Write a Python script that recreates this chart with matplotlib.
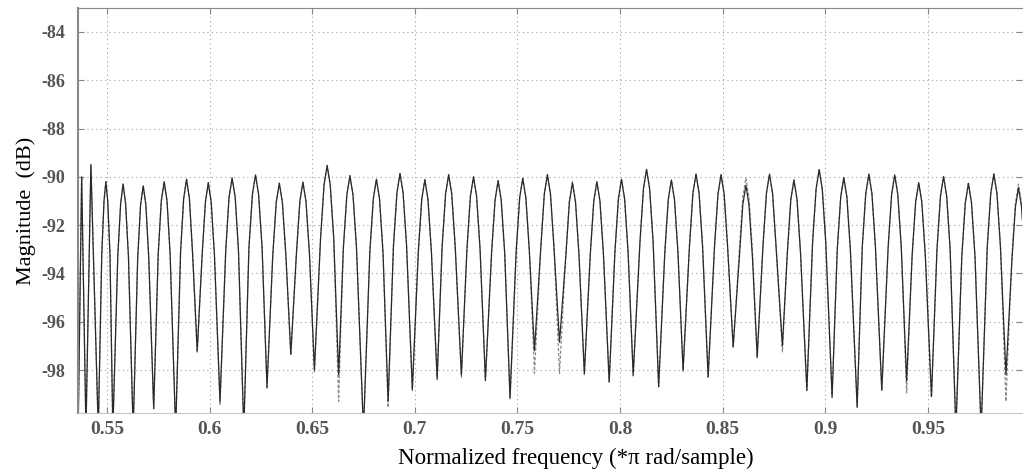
import matplotlib
matplotlib.use('Agg')
import matplotlib.pyplot as plt
from matplotlib.ticker import FormatStrFormatter

# points: trough, shoulders and top of every lobe
freq = [0.5360, 0.5377, 0.5398, 0.5422, 0.5458,
        0.5475, 0.5486, 0.5495, 0.5504, 0.5515, 0.5529,
        0.5553, 0.5567, 0.5579, 0.5591, 0.5605, 0.5628,
        0.5650, 0.5664, 0.5677, 0.5690, 0.5704, 0.5728,
        0.5750, 0.5765, 0.5779, 0.5793, 0.5808, 0.5835,
        0.5859, 0.5874, 0.5888, 0.5902, 0.5917, 0.5940,
        0.5964, 0.5980, 0.5994, 0.6008, 0.6024, 0.6051,
        0.6079, 0.6095, 0.6110, 0.6125, 0.6141, 0.6167,
        0.6192, 0.6209, 0.6224, 0.6239, 0.6256, 0.6280,
        0.6308, 0.6325, 0.6340, 0.6355, 0.6372, 0.6396,
        0.6423, 0.6440, 0.6455, 0.6470, 0.6487, 0.6511,
        0.6541, 0.6558, 0.6573, 0.6588, 0.6605, 0.6629,
        0.6652, 0.6669, 0.6684, 0.6699, 0.6716, 0.6750,
        0.6781, 0.6798, 0.6813, 0.6828, 0.6845, 0.6870,
        0.6896, 0.6913, 0.6928, 0.6943, 0.6960, 0.6988,
        0.7017, 0.7034, 0.7049, 0.7064, 0.7081, 0.7109,
        0.7133, 0.7150, 0.7165, 0.7180, 0.7197, 0.7227,
        0.7254, 0.7271, 0.7286, 0.7301, 0.7318, 0.7344,
        0.7374, 0.7391, 0.7406, 0.7421, 0.7438, 0.7464,
        0.7494, 0.7511, 0.7526, 0.7541, 0.7558, 0.7583,
        0.7614, 0.7631, 0.7646, 0.7661, 0.7678, 0.7705,
        0.7736, 0.7753, 0.7768, 0.7783, 0.7800, 0.7826,
        0.7855, 0.7872, 0.7887, 0.7902, 0.7919, 0.7947,
        0.7975, 0.7992, 0.8007, 0.8022, 0.8039, 0.8064,
        0.8097, 0.8114, 0.8129, 0.8144, 0.8161, 0.8188,
        0.8218, 0.8235, 0.8250, 0.8265, 0.8282, 0.8307,
        0.8338, 0.8355, 0.8370, 0.8385, 0.8402, 0.8429,
        0.8460, 0.8477, 0.8492, 0.8507, 0.8524, 0.8551,
        0.8581, 0.8598, 0.8613, 0.8628, 0.8645, 0.8668,
        0.8696, 0.8713, 0.8728, 0.8743, 0.8760, 0.8791,
        0.8815, 0.8832, 0.8847, 0.8862, 0.8879, 0.8910,
        0.8938, 0.8955, 0.8970, 0.8985, 0.9002, 0.9033,
        0.9058, 0.9075, 0.9090, 0.9105, 0.9122, 0.9155,
        0.9180, 0.9197, 0.9212, 0.9227, 0.9244, 0.9275,
        0.9306, 0.9323, 0.9338, 0.9353, 0.9370, 0.9396,
        0.9423, 0.9440, 0.9455, 0.9470, 0.9487, 0.9517,
        0.9544, 0.9561, 0.9576, 0.9591, 0.9608, 0.9636,
        0.9665, 0.9682, 0.9697, 0.9712, 0.9729, 0.9759,
        0.9789, 0.9806, 0.9821, 0.9836, 0.9853, 0.9880,
        0.9909, 0.9926, 0.9941, 0.9956, 0.9960]

# solid curve, dB
mag_solid = [-100.5, -90.0, -100.5, -89.5, -100.5,
             -93.2, -91.0, -90.2, -91.0, -93.2, -100.5,
             -93.3, -91.1, -90.3, -91.1, -93.3, -100.5,
             -93.37, -91.17, -90.37, -91.17, -93.37, -99.6,
             -93.2, -91.0, -90.2, -91.0, -93.2, -100.5,
             -93.1, -90.9, -90.1, -90.9, -93.1, -97.2,
             -93.24, -91.04, -90.24, -91.04, -93.24, -99.3,
             -93.05, -90.85, -90.05, -90.85, -93.05, -100.5,
             -92.92, -90.72, -89.92, -90.72, -92.92, -98.7,
             -93.26, -91.06, -90.26, -91.06, -93.26, -97.34,
             -93.22, -91.02, -90.22, -91.02, -93.22, -98.0,
             -92.53, -90.33, -89.53, -90.33, -92.53, -98.2,
             -92.95, -90.75, -89.95, -90.75, -92.95, -100.5,
             -93.1, -90.9, -90.1, -90.9, -93.1, -99.3,
             -92.86, -90.66, -89.86, -90.66, -92.86, -98.8,
             -93.12, -90.92, -90.12, -90.92, -93.12, -98.35,
             -92.91, -90.71, -89.91, -90.71, -92.91, -98.2,
             -93.0, -90.8, -90.0, -90.8, -93.0, -98.42,
             -93.16, -90.96, -90.16, -90.96, -93.16, -99.15,
             -93.06, -90.86, -90.06, -90.86, -93.06, -97.2,
             -92.91, -90.71, -89.91, -90.71, -92.91, -96.85,
             -93.25, -91.05, -90.25, -91.05, -93.25, -98.14,
             -93.2, -91.0, -90.2, -91.0, -93.2, -98.49,
             -93.1, -90.9, -90.1, -90.9, -93.1, -98.2,
             -92.69, -90.49, -89.69, -90.49, -92.69, -98.69,
             -93.13, -90.93, -90.13, -90.93, -93.13, -98.0,
             -92.88, -90.68, -89.88, -90.68, -92.88, -98.28,
             -92.91, -90.71, -89.91, -90.71, -92.91, -97.04,
             -93.35, -91.15, -90.35, -91.15, -93.35, -97.45,
             -92.89, -90.69, -89.89, -90.69, -92.89, -97.0,
             -93.13, -90.93, -90.13, -90.93, -93.13, -98.83,
             -92.7, -90.5, -89.7, -90.5, -92.7, -99.1,
             -93.03, -90.83, -90.03, -90.83, -93.03, -99.52,
             -92.89, -90.69, -89.89, -90.69, -92.89, -98.83,
             -92.92, -90.72, -89.92, -90.72, -92.92, -98.45,
             -93.24, -91.04, -90.24, -91.04, -93.24, -99.1,
             -92.99, -90.79, -89.99, -90.79, -92.99, -100.5,
             -93.27, -91.07, -90.27, -91.07, -93.27, -100.5,
             -92.88, -90.68, -89.88, -90.68, -92.88, -98.2,
             -93.45, -91.25, -90.45, -91.25, -91.8]

# dashed curve, dB
mag_dashed = [-100.5, -90.0, -100.5, -89.5, -100.5,
              -93.2, -91.0, -90.2, -91.0, -93.2, -100.5,
              -93.3, -91.1, -90.3, -91.1, -93.3, -100.5,
              -93.37, -91.17, -90.37, -91.17, -93.37, -99.6,
              -93.2, -91.0, -90.2, -91.0, -93.2, -100.5,
              -93.1, -90.9, -90.1, -90.9, -93.1, -97.3,
              -93.24, -91.04, -90.24, -91.04, -93.24, -99.45,
              -93.05, -90.85, -90.05, -90.85, -93.05, -100.5,
              -92.92, -90.72, -89.92, -90.72, -92.92, -98.8,
              -93.26, -91.06, -90.26, -91.06, -93.26, -97.4,
              -93.22, -91.02, -90.22, -91.02, -93.22, -98.1,
              -92.53, -90.33, -89.53, -90.33, -92.53, -99.3,
              -92.95, -90.75, -89.95, -90.75, -92.95, -100.5,
              -93.1, -90.9, -90.1, -90.9, -93.1, -99.55,
              -92.86, -90.66, -89.86, -90.66, -92.86, -98.85,
              -93.12, -90.92, -90.12, -90.92, -93.12, -98.4,
              -92.91, -90.71, -89.91, -90.71, -92.91, -98.3,
              -93.0, -90.8, -90.0, -90.8, -93.0, -98.45,
              -93.16, -90.96, -90.16, -90.96, -93.16, -99.2,
              -93.06, -90.86, -90.06, -90.86, -93.06, -98.14,
              -92.91, -90.71, -89.91, -90.71, -92.91, -98.14,
              -93.2, -91.0, -90.2, -91.0, -93.2, -98.2,
              -93.2, -91.0, -90.2, -91.0, -93.2, -98.5,
              -93.1, -90.9, -90.1, -90.9, -93.1, -98.25,
              -92.69, -90.49, -89.69, -90.49, -92.69, -98.7,
              -93.13, -90.93, -90.13, -90.93, -93.13, -98.05,
              -92.88, -90.68, -89.88, -90.68, -92.88, -98.3,
              -92.91, -90.71, -89.91, -90.71, -92.91, -97.1,
              -93.05, -90.85, -90.05, -90.85, -93.05, -97.5,
              -92.89, -90.69, -89.89, -90.69, -92.89, -97.25,
              -93.13, -90.93, -90.13, -90.93, -93.13, -98.85,
              -92.7, -90.5, -89.7, -90.5, -92.7, -99.15,
              -93.03, -90.83, -90.03, -90.83, -93.03, -99.55,
              -92.89, -90.69, -89.89, -90.69, -92.89, -98.85,
              -92.92, -90.72, -89.92, -90.72, -92.92, -98.95,
              -93.24, -91.04, -90.24, -91.04, -93.24, -99.15,
              -92.99, -90.79, -89.99, -90.79, -92.99, -100.5,
              -93.27, -91.07, -90.27, -91.07, -93.27, -100.5,
              -92.88, -90.68, -89.88, -90.68, -92.88, -99.3,
              -93.3, -91.1, -90.3, -91.1, -91.7]

xticks = [0.55, 0.6, 0.65, 0.7, 0.75, 0.8, 0.85, 0.9, 0.95]
yticks = [-98, -96, -94, -92, -90, -88, -86, -84]

plt.rcParams['font.family'] = ['Liberation Serif', 'DejaVu Serif']
plt.rcParams['axes.unicode_minus'] = False

fig = plt.figure(figsize=(10.23, 4.70), dpi=100)
ax = fig.add_axes([0.0762, 0.1213, 0.9228, 0.862])

ax.plot(freq, mag_dashed, color='#8a8a8a', lw=0.9, ls=(0, (2.5, 1.5)))
ax.plot(freq, mag_solid, color='#2a2a2a', lw=0.9)

ax.set_xlim(0.5359, 0.9958)
ax.set_ylim(-99.78, -83.0)
ax.set_xticks(xticks)
ax.set_yticks(yticks)
ax.xaxis.set_major_formatter(FormatStrFormatter('%g'))
ax.grid(True, color='#a0a0a0', ls=(0, (1, 3)), lw=0.8)

ax.tick_params(direction='in', length=4, color='#888888', top=True, right=True,
               labelcolor='#555555')
ax.tick_params(axis='x', pad=6, labelsize=14)
ax.tick_params(axis='y', pad=9, labelsize=13)
for lab in ax.get_xticklabels() + ax.get_yticklabels():
    lab.set_fontweight('bold')

ax.spines['top'].set_color('#888888')
ax.spines['left'].set_color('#888888')
ax.spines['left'].set_linewidth(1.5)
ax.spines['bottom'].set_color('#c8c8c8')
ax.spines['right'].set_visible(False)

ax.set_xlabel('Normalized frequency (*π rad/sample)', fontsize=16.5)
ax.xaxis.set_label_coords(0.527, -0.085)
ax.set_ylabel('Magnitude  (dB)', fontsize=16, labelpad=4)

fig.savefig('out.png', dpi=100)
